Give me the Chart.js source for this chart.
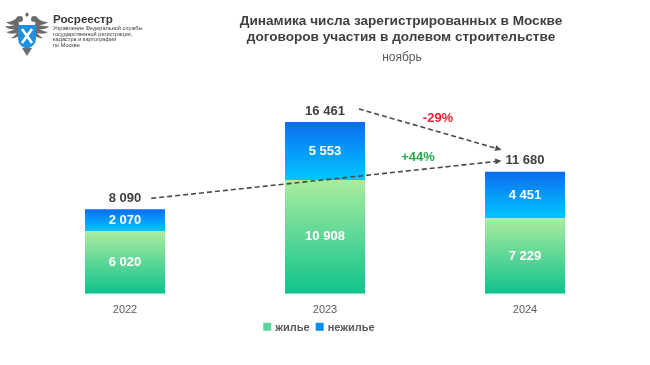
<!DOCTYPE html>
<html lang="ru">
<head>
<meta charset="utf-8">
<script src="https://cdn.jsdelivr.net/npm/chart.js@4"></script>
<style>
    body { margin: 0; background: #fff; font-family: "Liberation Sans", Arial, sans-serif; }
    #wrap { position: relative; width: 650px; height: 365px; overflow: hidden; }
    #chart { position: absolute; left: 0; top: 0; }
    .title { position: absolute; left: 200px; width: 402px; top: 13px; text-align: center;
        font-weight: bold; font-size: 13.6px; line-height: 16px; color: #404040; }
    .sub { position: absolute; left: 300px; width: 204px; top: 50px; text-align: center;
        font-size: 12px; color: #595959; }
    .logo { position: absolute; left: 3px; top: 8px; }
    .brand { position: absolute; left: 53px; top: 12px; color: #3a3a3a; }
    .brand b { font-size: 11.6px; display: block; line-height: 14px; }
    .brand span { font-size: 5.6px; line-height: 5.6px; display: block; }
</style>
</head>
<body>
<div id="wrap">
    <canvas id="chart" width="650" height="365"></canvas>
    <svg class="logo" width="48" height="50" viewBox="0 0 46 50">
        <!-- simplified emblem -->
        <g fill="#6b6b6b">
            <path d="M23 4 l2 3 -2 2 -2 -2z"/>
            <path d="M14 8 q-4 6 -12 6 q3 3 9 3 q-7 2 -10 1 q3 4 10 3 q-6 3 -9 3 q4 3 11 1 q-3 4 -6 5 q5 1 9 -3 z"/>
            <path d="M32 8 q4 6 12 6 q-3 3 -9 3 q7 2 10 1 q-3 4 -10 3 q6 3 9 3 q-4 3 -11 1 q3 4 6 5 q-5 1 -9 -3 z"/>
            <circle cx="16" cy="11" r="3"/>
            <circle cx="30" cy="11" r="3"/>
            <path d="M18 40 l5 8 5 -8z"/>
        </g>
        <path d="M14 17 h18 v13 q0 8 -9 11 q-9 -3 -9 -11z" fill="#1f8fe0"/>
        <path d="M18 21 l10 14 M28 21 l-10 14" stroke="#fff" stroke-width="2.6"/>
    </svg>
    <div class="brand">
        <b>Росреестр</b>
        <span>Управление Федеральной службы</span>
        <span>государственной регистрации,</span>
        <span>кадастра и картографии</span>
        <span>по Москве</span>
    </div>
    <div class="title">Динамика числа зарегистрированных в Москве<br>договоров участия в долевом строительстве</div>
    <div class="sub">ноябрь</div>
</div>
<script>
// Data
const years = ['2022', '2023', '2024'];
const housing = [6020, 10908, 7229];
const nonHousing = [2070, 5553, 4451];
const totals = ['8 090', '16 461', '11 680'];
const housingLabels = ['6 020', '10 908', '7 229'];
const nonHousingLabels = ['2 070', '5 553', '4 451'];
const changes = ['+44%', '-29%'];
const seriesNames = ['жилье', 'нежилье'];

const FONT = '"Liberation Sans", Arial, sans-serif';
const legendColors = ['#5fd49a', '#0a8cf0'];

// Vertical gradient for one stacked segment
function segmentGradient(ctx, topColor, bottomColor) {
    const chart = ctx.chart;
    if (!chart.chartArea || ctx.type !== 'data') return bottomColor;
    const y = chart.scales.y;
    const i = ctx.dataIndex;
    const lo = ctx.datasetIndex === 0 ? 0 : housing[i];
    const hi = ctx.datasetIndex === 0 ? housing[i] : housing[i] + nonHousing[i];
    const g = chart.ctx.createLinearGradient(0, y.getPixelForValue(hi), 0, y.getPixelForValue(lo));
    g.addColorStop(0, topColor);
    g.addColorStop(1, bottomColor);
    return g;
}

// Value labels, change arrows and the small legend under the axis
const labelsPlugin = {
    id: 'labels',
    afterDatasetsDraw(chart) {
        const c = chart.ctx;
        const low = chart.getDatasetMeta(0).data;
        const high = chart.getDatasetMeta(1).data;
        c.save();
        c.textAlign = 'center';
        c.textBaseline = 'middle';
        c.font = 'bold 13px ' + FONT;
        c.fillStyle = '#ffffff';
        low.forEach((b, i) => {
            c.fillText(housingLabels[i], b.x, (b.y + b.base) / 2);
            c.fillText(nonHousingLabels[i], high[i].x, (high[i].y + high[i].base) / 2);
        });
        c.fillStyle = '#404040';
        const pos = high.map((b, i) => {
            const y = b.y - 11;
            c.fillText(totals[i], b.x, y);
            return { x: b.x, y: y, w: c.measureText(totals[i]).width };
        });

        function arrow(x1, y1, x2, y2) {
            c.strokeStyle = '#4a4a4a';
            c.lineWidth = 1.6;
            c.setLineDash([5, 3]);
            c.beginPath();
            c.moveTo(x1, y1);
            c.lineTo(x2 - 4, y2 - 4 * (y2 - y1) / (x2 - x1));
            c.stroke();
            c.setLineDash([]);
            const a = Math.atan2(y2 - y1, x2 - x1);
            c.fillStyle = '#4a4a4a';
            c.beginPath();
            c.moveTo(x2, y2);
            c.lineTo(x2 - 7 * Math.cos(a - 0.45), y2 - 7 * Math.sin(a - 0.45));
            c.lineTo(x2 - 7 * Math.cos(a + 0.45), y2 - 7 * Math.sin(a + 0.45));
            c.closePath();
            c.fill();
        }
        const endX = pos[2].x - pos[2].w / 2 - 4;
        arrow(pos[0].x + pos[0].w / 2 + 10, pos[0].y, endX, pos[2].y);
        arrow(pos[1].x + pos[1].w / 2 + 14, pos[1].y - 2, endX, pos[2].y - 11);

        c.fillStyle = '#2eaa4f';
        c.fillText(changes[0], pos[2].x - 107, pos[2].y - 3);
        c.fillStyle = '#e0262c';
        c.fillText(changes[1], pos[2].x - 87, pos[1].y + 7);

        // legend
        const area = chart.chartArea;
        const ly = area.bottom + 33;
        c.font = 'bold 11px ' + FONT;
        c.textAlign = 'left';
        const gap = 6;
        const widths = seriesNames.map(n => 8 + 4 + c.measureText(n).width);
        const full = widths[0] + widths[1] + gap;
        let lx = (area.left + area.right) / 2 - full / 2 - 6;
        seriesNames.forEach((n, i) => {
            c.fillStyle = legendColors[i];
            c.fillRect(lx, ly - 4, 8, 8);
            c.fillStyle = '#595959';
            c.fillText(n, lx + 12, ly + 1);
            lx += widths[i] + gap;
        });
        c.restore();
    }
};

const chart = new Chart(document.getElementById('chart'), {
    type: 'bar',
    data: {
        labels: years,
        datasets: [{
            label: seriesNames[0],
            data: housing,
            backgroundColor: ctx => segmentGradient(ctx, '#aaec9f', '#10c28c'),
            borderWidth: 0
        }, {
            label: seriesNames[1],
            data: nonHousing,
            backgroundColor: ctx => segmentGradient(ctx, '#0a6cf0', '#02c6ff'),
            borderWidth: 0
        }]
    },
    options: {
        responsive: false,
        animation: false,
        layout: { padding: { left: 25, right: 25, top: 85, bottom: 38 } },
        datasets: { bar: { barPercentage: 0.4, categoryPercentage: 1 } },
        plugins: {
            title: { display: false },
            tooltip: { enabled: false },
            legend: { display: false }
        },
        scales: {
            x: {
                stacked: true,
                grid: { display: false, drawTicks: false },
                border: { display: false },
                ticks: { padding: 10, color: '#595959', font: { family: FONT, size: 11 } }
            },
            y: {
                stacked: true,
                display: false,
                min: 0,
                max: 20000
            }
        }
    },
    plugins: [labelsPlugin]
});
</script>
</body>
</html>
